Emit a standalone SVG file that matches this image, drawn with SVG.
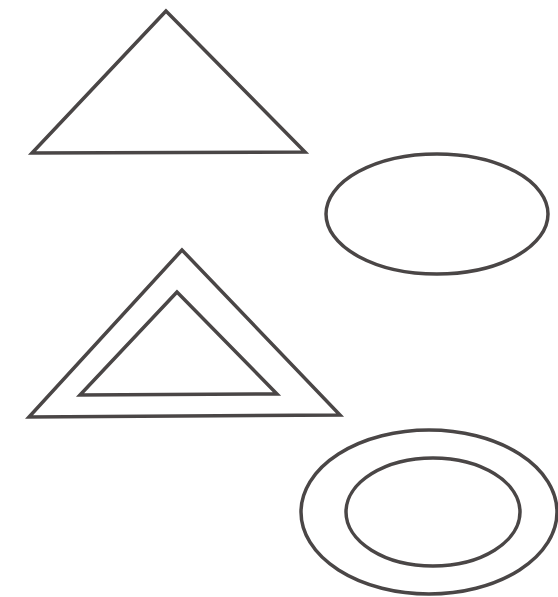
<svg xmlns="http://www.w3.org/2000/svg" width="558" height="597" viewBox="0 0 558 597">
<style>
.s{fill:none;stroke:#4a4646;stroke-width:3.5;stroke-linejoin:miter}
</style>
<rect width="558" height="597" fill="#ffffff"/>
<g id="triangle1"><polygon class="s" points="166,11 32,153 305,152"/></g>
<g id="ellipse1"><ellipse class="s" cx="437" cy="214" rx="111" ry="60"/></g>
<g id="triangle2">
<polygon class="s" points="182,250 29,417 340,415"/>
<polygon class="s" points="177,292 80,395 277,394"/>
</g>
<g id="ellipse2">
<ellipse class="s" cx="429" cy="512" rx="128" ry="82"/>
<ellipse class="s" cx="433" cy="512" rx="87" ry="54"/>
</g>
<g id="connectors"/>
</svg>
